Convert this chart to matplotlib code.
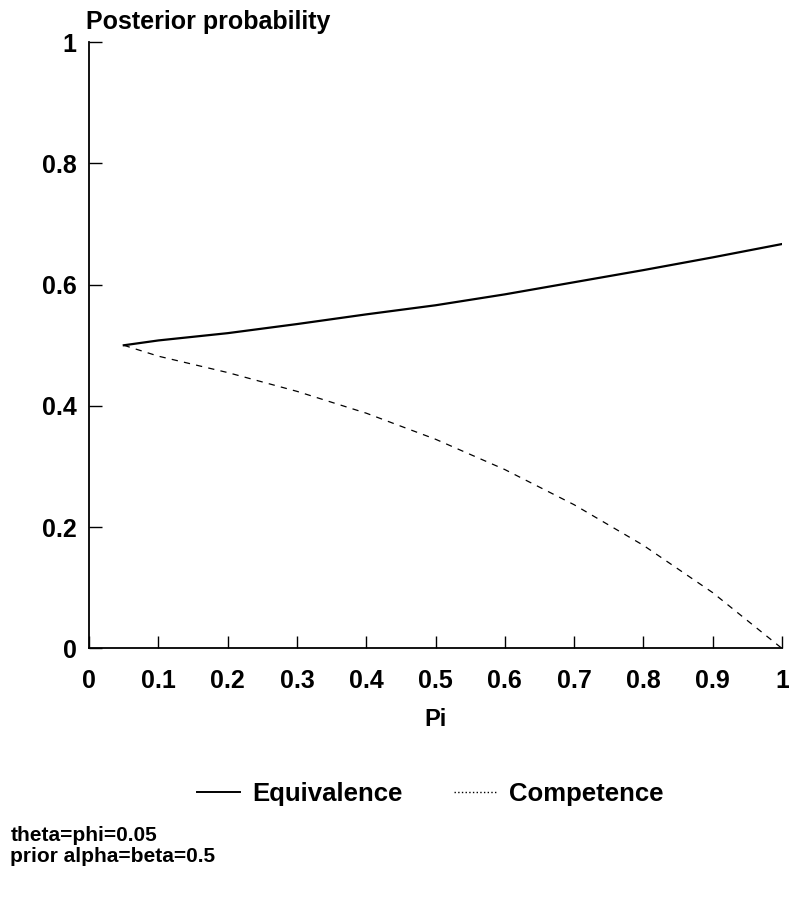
import numpy as np
import matplotlib
matplotlib.use('Agg')
import matplotlib.pyplot as plt
from matplotlib.lines import Line2D

# values
pi = [0.05, 0.1, 0.2, 0.3, 0.4, 0.5, 0.6, 0.7, 0.8, 0.9, 1.0]
equivalence = [0.500, 0.508, 0.520, 0.535, 0.551, 0.566, 0.584, 0.604, 0.624, 0.645, 0.667]
competence = [0.500, 0.482, 0.455, 0.424, 0.388, 0.345, 0.295, 0.237, 0.170, 0.092, 0.000]

xticks = [0, 0.1, 0.2, 0.3, 0.4, 0.5, 0.6, 0.7, 0.8, 0.9, 1]
xticklabels = ['0', '0.1', '0.2', '0.3', '0.4', '0.5', '0.6', '0.7', '0.8', '0.9', '1']
yticks = [0, 0.2, 0.4, 0.6, 0.8, 1]
yticklabels = ['0', '0.2', '0.4', '0.6', '0.8', '1']

plt.rcParams['font.family'] = ['Liberation Sans', 'DejaVu Sans']

fig = plt.figure(figsize=(7.89, 8.98), dpi=100)
ax = fig.add_axes([0.113, 0.278, 0.878, 0.675])

ax.plot(pi, equivalence, '-', color='black', lw=1.6)
ax.plot(pi, competence, color='black', lw=0.9, dashes=(5, 5))

ax.set_xlim(0, 1)
ax.set_ylim(0, 1)
ax.set_xticks(xticks)
ax.set_xticklabels(xticklabels)
ax.set_yticks(yticks)
ax.set_yticklabels(yticklabels)
ax.tick_params(direction='in', length=9, width=1.0, labelsize=18, pad=9)
ax.tick_params(axis='x', pad=15)
for lab in ax.get_xticklabels() + ax.get_yticklabels():
    lab.set_fontweight('bold')

for s in ['top', 'right']:
    ax.spines[s].set_visible(False)
for s in ['left', 'bottom']:
    ax.spines[s].set_linewidth(1.3)

ax.set_xlabel('Pi', fontsize=17, fontweight='bold', labelpad=11)
fig.text(0.109, 0.975, 'Posterior probability', fontsize=18,
         fontweight='bold', ha='left', va='center')

handles = [Line2D([], [], color='black', lw=1.4),
           Line2D([], [], color='black', lw=1.0, ls=':')]
fig.legend(handles, ['Equivalence', 'Competence'], loc='center',
           bbox_to_anchor=(0.545, 0.116), ncol=2, frameon=False,
           prop={'size': 18.5, 'weight': 'bold'}, handlelength=1.7,
           handletextpad=0.45, columnspacing=2.0)

fig.text(0.013, 0.036, 'theta=phi=0.05\nprior alpha=beta=0.5', fontsize=15,
         fontweight='bold', ha='left', va='bottom', linespacing=1.1)

fig.savefig('out.png', dpi=100)
